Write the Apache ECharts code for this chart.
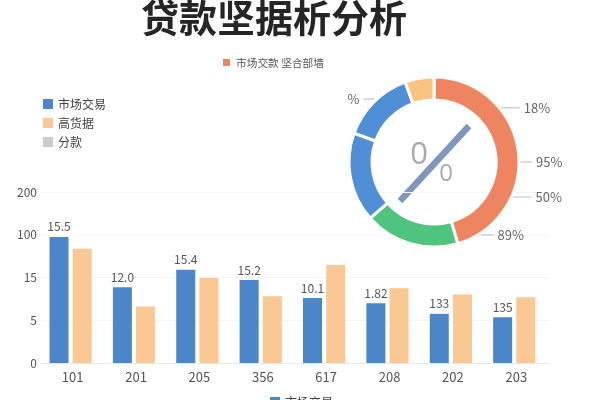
<!DOCTYPE html>
<html><head><meta charset="utf-8">
<script src="https://cdn.jsdelivr.net/npm/echarts@6/dist/echarts.min.js"></script>
<style>html,body{margin:0;padding:0;background:#fff}#c{width:600px;height:400px}</style>
</head><body><div id="c"></div>
<script>
// ---- data ----
const categories = ['101','201','205','356','617','208','202','203'];
const yTickLabels = ['0','5','15','100','200'];
const seriesBlue = [2.95,1.77,2.18,1.94,1.52,1.40,1.15,1.07];
const seriesOrange = [2.67,1.32,1.99,1.56,2.29,1.75,1.60,1.54];
const blueLabels = ['15.5','12.0','15.4','15.2','10.1','1.82','133','135'];
const barNames = ['市场交易','高货据','分款'];
const donutNames = ['市场交款 坚合部墙','b','c','d','e'];
const donutValues = [45.5,18,17,14,5.5];
const calloutTexts = ['18%','95%','50%','89%','%'];
const calloutAngles = [51,90,114,148,317];
const calloutLen2 = [19,12,19,14,12];

const donutColors = ['#ef8560','#4fc47f','#4e8fd6','#4e8fd6','#f8c47f'];

// build transparent label pie from callouts
const labelPieData = [];
let prev = 0;
calloutAngles.forEach((a,i)=>{
  const s = a-1, e = a+1;
  if (s>prev) labelPieData.push({value:s-prev,name:'sp'+i,label:{show:false},labelLine:{show:false}});
  labelPieData.push({value:2,name:calloutTexts[i],labelLine:{show:true,length:1,length2:calloutLen2[i]}});
  prev = e;
});
if (prev<360) labelPieData.push({value:360-prev,name:'spEnd',label:{show:false},labelLine:{show:false}});

const chart = echarts.init(document.getElementById('c'));
chart.setOption({
  animation:false,
  textStyle:{fontFamily:'"Noto Sans CJK SC","Noto Sans",sans-serif'},
  title:{text:'贷款坚据析分析',left:136,top:-6,textStyle:{fontSize:38,fontWeight:'bold',color:'#252525',fontFamily:'"Noto Sans CJK SC",sans-serif'}},
  legend:[
    {orient:'vertical',left:38,top:93,itemWidth:10,itemHeight:10,itemGap:7,icon:'rect',data:barNames,textStyle:{fontSize:12,color:'#444'}},
    {left:265,top:391,itemWidth:10,itemHeight:10,icon:'rect',data:['市场交易'],textStyle:{fontSize:12,color:'#444'}},
    {left:216,top:52,itemWidth:9,itemHeight:9,itemGap:4,icon:'rect',data:[donutNames[0]],textStyle:{fontSize:10.7,color:'#555'}}
  ],
  grid:{left:41,right:52,top:192,bottom:37},
  xAxis:{type:'category',data:categories,axisTick:{show:false},axisLine:{lineStyle:{color:'#e8e8e8'}},axisLabel:{fontSize:13,color:'#555',margin:8}},
  yAxis:{type:'value',min:0,max:4,interval:1,axisLabel:{fontSize:12,color:'#555',margin:4,formatter:v=>yTickLabels[v]},splitLine:{lineStyle:{color:'#f4f4f4'}},axisLine:{show:false},axisTick:{show:false}},
  series:[
    {name:barNames[0],type:'bar',data:seriesBlue,barWidth:19,barGap:'22%',itemStyle:{color:'#4b86c8'},
     label:{show:true,position:'top',distance:4,fontSize:12,color:'#555',formatter:p=>blueLabels[p.dataIndex]}},
    {name:barNames[1],type:'bar',data:seriesOrange,barWidth:19,itemStyle:{color:'#f9c893'}},
    {name:barNames[2],type:'bar',data:[],itemStyle:{color:'#c9c9d1'}},
    {type:'pie',center:[434,162],radius:[62,85],startAngle:90,clockwise:true,avoidLabelOverlap:false,
     label:{show:false},labelLine:{show:false},
     itemStyle:{borderColor:'#fff',borderWidth:3},
     data:donutValues.map((v,i)=>({value:v,name:donutNames[i],itemStyle:{color:donutColors[i]}}))},
    {type:'pie',center:[434,162],radius:[62,85],startAngle:90,clockwise:true,avoidLabelOverlap:false,silent:true,
     itemStyle:{color:'rgba(0,0,0,0)'},
     label:{show:true,fontSize:13,color:'#666',formatter:'{b}',distanceToLabelLine:4},
     labelLine:{show:true,lineStyle:{color:'#bbb',width:1}},
     data:labelPieData}
  ],
  graphic:[
    {type:'line',shape:{x1:400,y1:201,x2:469,y2:126},style:{stroke:'#7e98bd',lineWidth:6.5}},
    {type:'text',x:419,y:155,style:{text:'0',fontSize:31,fill:'#aaa',textAlign:'center',textVerticalAlign:'middle',fontFamily:'"Open Sans",sans-serif'}},
    {type:'text',x:446,y:174,style:{text:'0',fontSize:24,fill:'#aaa',textAlign:'center',textVerticalAlign:'middle',fontFamily:'"Open Sans",sans-serif'}}
  ]
});
</script></body></html>
